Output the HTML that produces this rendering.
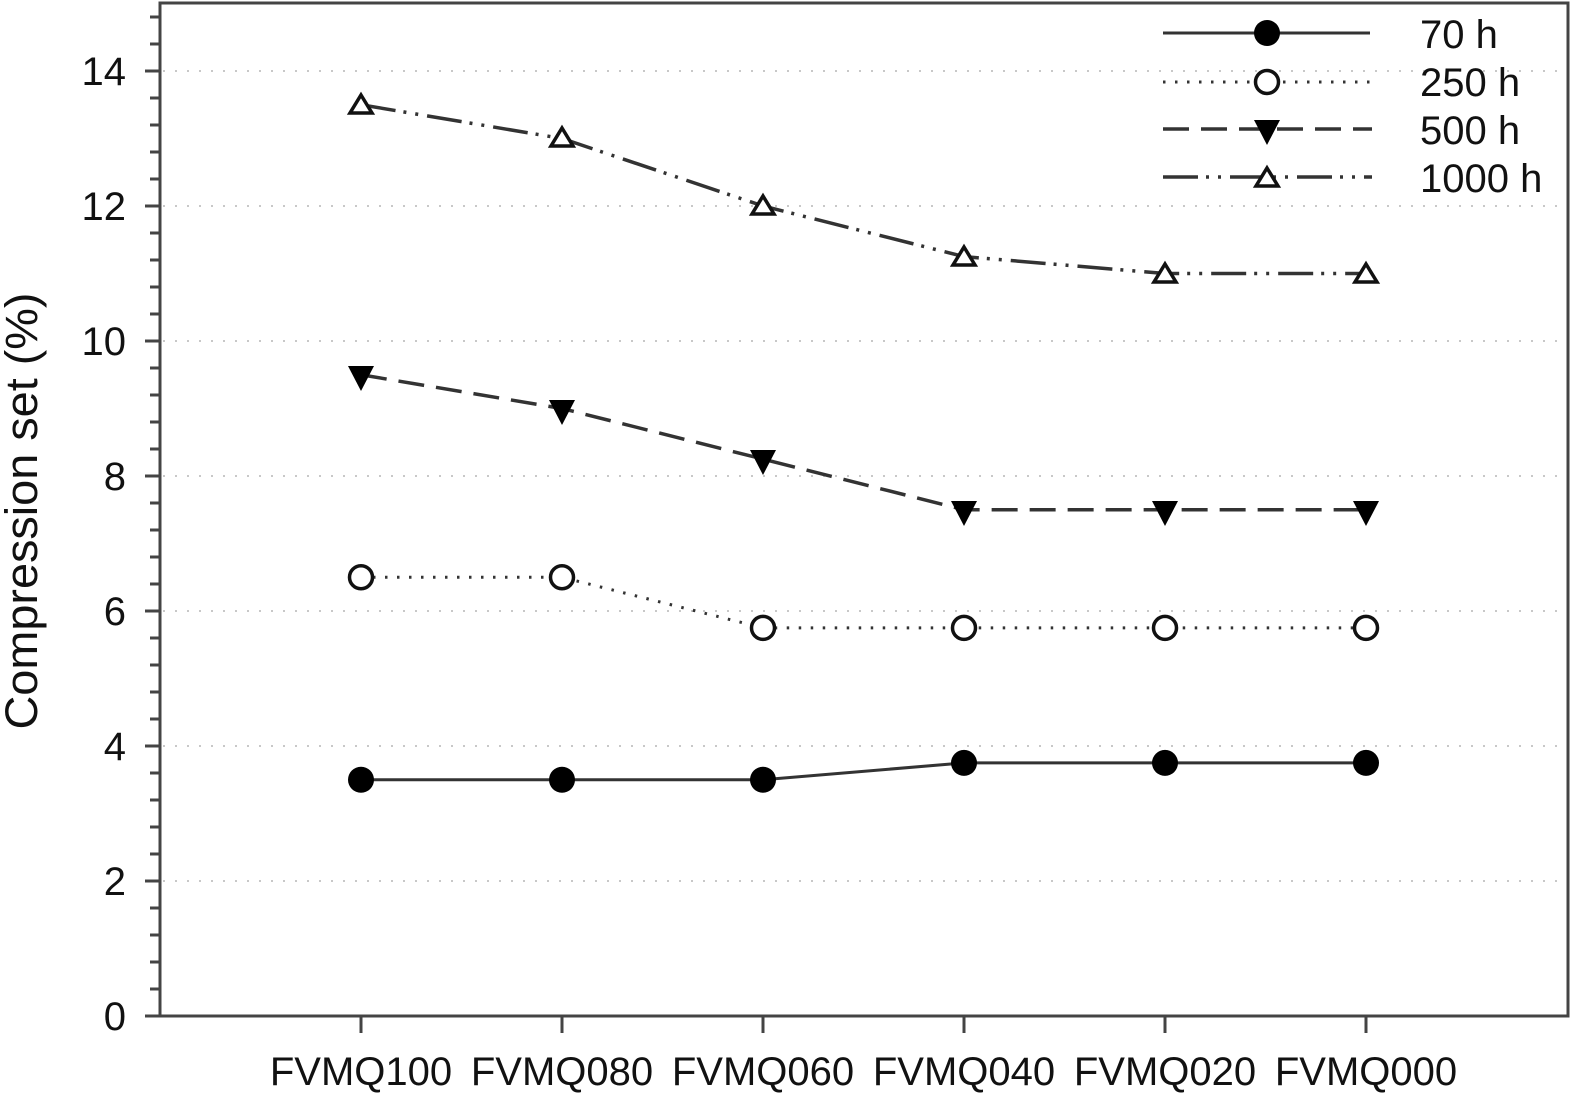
<!DOCTYPE html>
<html><head><meta charset="utf-8"><style>
html,body{margin:0;padding:0;background:#fff;}
svg{display:block;}
text{font-family:"Liberation Sans",Arial,sans-serif;fill:#111;}
</style></head><body>
<svg width="1573" height="1093" viewBox="0 0 1573 1093" xmlns="http://www.w3.org/2000/svg">
<rect width="1573" height="1093" fill="#fff"/>
<!-- gridlines -->
<g stroke="#c8c8c8" stroke-width="2" stroke-dasharray="2 10">
<line x1="163" y1="881" x2="1566" y2="881"/>
<line x1="163" y1="746" x2="1566" y2="746"/>
<line x1="163" y1="611" x2="1566" y2="611"/>
<line x1="163" y1="476" x2="1566" y2="476"/>
<line x1="163" y1="341" x2="1566" y2="341"/>
<line x1="163" y1="206" x2="1566" y2="206"/>
<line x1="163" y1="71" x2="1566" y2="71"/>
</g>
<!-- frame -->
<rect x="160" y="3" width="1408" height="1013" fill="none" stroke="#444" stroke-width="3"/>
<!-- y ticks major -->
<g stroke="#444" stroke-width="3">
<line x1="145" y1="1016" x2="160" y2="1016"/>
<line x1="145" y1="881" x2="160" y2="881"/>
<line x1="145" y1="746" x2="160" y2="746"/>
<line x1="145" y1="611" x2="160" y2="611"/>
<line x1="145" y1="476" x2="160" y2="476"/>
<line x1="145" y1="341" x2="160" y2="341"/>
<line x1="145" y1="206" x2="160" y2="206"/>
<line x1="145" y1="71" x2="160" y2="71"/>
</g>
<g stroke="#444" stroke-width="3" id="minor">
<line x1="150" y1="989" x2="160" y2="989"/><line x1="150" y1="962" x2="160" y2="962"/><line x1="150" y1="935" x2="160" y2="935"/><line x1="150" y1="908" x2="160" y2="908"/>
<line x1="150" y1="854" x2="160" y2="854"/><line x1="150" y1="827" x2="160" y2="827"/><line x1="150" y1="800" x2="160" y2="800"/><line x1="150" y1="773" x2="160" y2="773"/>
<line x1="150" y1="719" x2="160" y2="719"/><line x1="150" y1="692" x2="160" y2="692"/><line x1="150" y1="665" x2="160" y2="665"/><line x1="150" y1="638" x2="160" y2="638"/>
<line x1="150" y1="584" x2="160" y2="584"/><line x1="150" y1="557" x2="160" y2="557"/><line x1="150" y1="530" x2="160" y2="530"/><line x1="150" y1="503" x2="160" y2="503"/>
<line x1="150" y1="449" x2="160" y2="449"/><line x1="150" y1="422" x2="160" y2="422"/><line x1="150" y1="395" x2="160" y2="395"/><line x1="150" y1="368" x2="160" y2="368"/>
<line x1="150" y1="314" x2="160" y2="314"/><line x1="150" y1="287" x2="160" y2="287"/><line x1="150" y1="260" x2="160" y2="260"/><line x1="150" y1="233" x2="160" y2="233"/>
<line x1="150" y1="179" x2="160" y2="179"/><line x1="150" y1="152" x2="160" y2="152"/><line x1="150" y1="125" x2="160" y2="125"/><line x1="150" y1="98" x2="160" y2="98"/>
<line x1="150" y1="44" x2="160" y2="44"/><line x1="150" y1="17" x2="160" y2="17"/>
</g>
<!-- y tick labels -->
<g font-size="40" text-anchor="end">
<text x="126" y="1030">0</text>
<text x="126" y="895">2</text>
<text x="126" y="760">4</text>
<text x="126" y="625">6</text>
<text x="126" y="490">8</text>
<text x="126" y="355">10</text>
<text x="126" y="220">12</text>
<text x="126" y="85">14</text>
</g>
<!-- x ticks -->
<g stroke="#444" stroke-width="3">
<line x1="361" y1="1016" x2="361" y2="1033"/>
<line x1="562" y1="1016" x2="562" y2="1033"/>
<line x1="763" y1="1016" x2="763" y2="1033"/>
<line x1="964" y1="1016" x2="964" y2="1033"/>
<line x1="1165" y1="1016" x2="1165" y2="1033"/>
<line x1="1366" y1="1016" x2="1366" y2="1033"/>
</g>
<g font-size="40" text-anchor="middle">
<text x="361" y="1085">FVMQ100</text>
<text x="562" y="1085">FVMQ080</text>
<text x="763" y="1085">FVMQ060</text>
<text x="964" y="1085">FVMQ040</text>
<text x="1165" y="1085">FVMQ020</text>
<text x="1366" y="1085">FVMQ000</text>
</g>
<!-- y axis label -->
<text transform="translate(37,511) rotate(-90)" font-size="45" text-anchor="middle" textLength="437" lengthAdjust="spacingAndGlyphs">Compression set (%)</text>

<!-- series 70h solid -->
<polyline points="361,779.75 562,779.75 763,779.75 964,762.9 1165,762.9 1366,762.9" fill="none" stroke="#333" stroke-width="3"/>
<!-- series 250h dotted -->
<polyline points="361,577.25 562,577.25 763,627.9 964,627.9 1165,627.9 1366,627.9" fill="none" stroke="#333" stroke-width="3" stroke-dasharray="2.5 9.5"/>
<!-- series 500h dashed -->
<polyline points="361,374.75 562,408.5 763,459.1 964,509.75 1165,509.75 1366,509.75" fill="none" stroke="#333" stroke-width="3.5" stroke-dasharray="26 12"/>
<!-- series 1000h dash-dot-dot -->
<polyline points="361,104.75 562,138.5 763,206 964,256.6 1165,273.5 1366,273.5" fill="none" stroke="#333" stroke-width="3.5" stroke-dasharray="35 8 3 9 3 9"/>

<!-- markers 70h -->
<g fill="#000">
<circle cx="361" cy="779.75" r="13"/><circle cx="562" cy="779.75" r="13"/><circle cx="763" cy="779.75" r="13"/>
<circle cx="964" cy="762.9" r="13"/><circle cx="1165" cy="762.9" r="13"/><circle cx="1366" cy="762.9" r="13"/>
</g>
<!-- markers 250h -->
<g fill="#fff" stroke="#111" stroke-width="3.5">
<circle cx="361" cy="577.25" r="11.5"/><circle cx="562" cy="577.25" r="11.5"/><circle cx="763" cy="627.9" r="11.5"/>
<circle cx="964" cy="627.9" r="11.5"/><circle cx="1165" cy="627.9" r="11.5"/><circle cx="1366" cy="627.9" r="11.5"/>
</g>
<!-- markers 500h -->
<g fill="#000">
<polygon points="348,366 374,366 361,391" transform="translate(0,0)"/>
<polygon points="549,400 575,400 562,425"/>
<polygon points="750,450 776,450 763,475"/>
<polygon points="951,501 977,501 964,526"/>
<polygon points="1152,501 1178,501 1165,526"/>
<polygon points="1353,501 1379,501 1366,526"/>
</g>
<!-- markers 1000h -->
<g fill="#fff" stroke="#111" stroke-width="3.5" stroke-linejoin="miter">
<polygon points="361,95 372,113 350,113"/>
<polygon points="562,128 573,146 551,146"/>
<polygon points="763,196 774,214 752,214"/>
<polygon points="964,247 975,265 953,265"/>
<polygon points="1165,264 1176,282 1154,282"/>
<polygon points="1366,264 1377,282 1355,282"/>
</g>

<!-- legend -->
<line x1="1163" y1="33" x2="1370" y2="33" stroke="#333" stroke-width="3"/>
<circle cx="1267" cy="33" r="13" fill="#000"/>
<line x1="1163" y1="82" x2="1370" y2="82" stroke="#333" stroke-width="3" stroke-dasharray="2.5 9.5"/>
<circle cx="1267" cy="82" r="11.5" fill="#fff" stroke="#111" stroke-width="3.5"/>
<line x1="1163" y1="129" x2="1372" y2="129" stroke="#333" stroke-width="3.5" stroke-dasharray="26 12"/>
<polygon points="1254,120 1280,120 1267,145" fill="#000"/>
<line x1="1163" y1="177" x2="1372" y2="177" stroke="#333" stroke-width="3.5" stroke-dasharray="35 8 3 9 3 9"/>
<polygon points="1267,168 1278,186 1256,186" fill="#fff" stroke="#111" stroke-width="3.5"/>
<g font-size="40">
<text x="1420" y="48">70 h</text>
<text x="1420" y="96">250 h</text>
<text x="1420" y="144">500 h</text>
<text x="1420" y="192">1000 h</text>
</g>
</svg>
</body></html>
